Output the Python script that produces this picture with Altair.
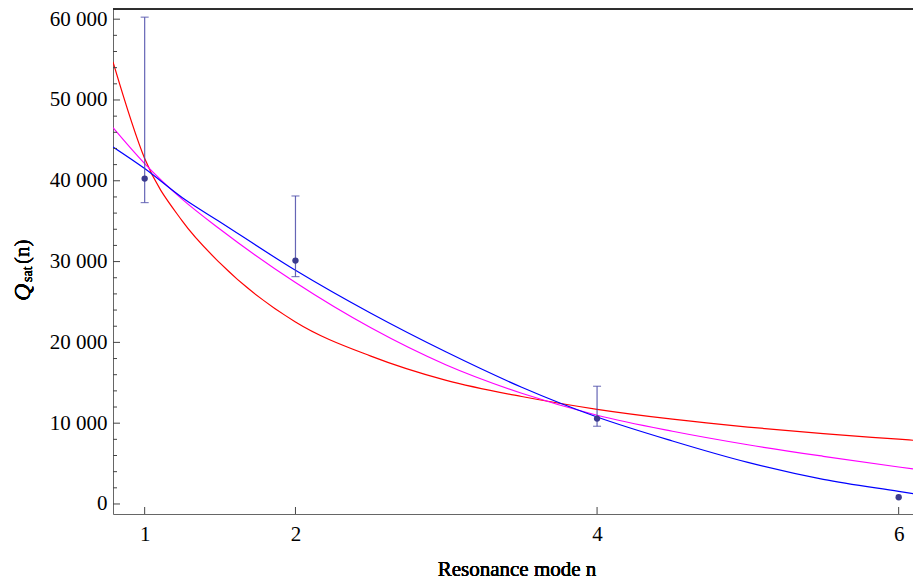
import altair as alt
import pandas as pd

# ---- data ----
n_vals = [1, 2, 4, 6]
q_vals = [40270, 30120, 10570, 830]

err_n = [1, 2, 4]
err_low = [37300, 28140, 9620]
err_high = [60250, 38120, 14570]

curve_x = [0.79, 1.0, 1.25, 1.5, 2.0, 2.5, 3.0, 3.5, 4.0, 4.5, 5.0, 5.5, 6.0, 6.16]
red_y = [54700, 42750, 35000, 29800, 22530, 18300, 15300, 13300, 11720, 10500, 9520, 8700, 8020, 7800]
magenta_y = [46580, 42130, 37700, 34000, 27400, 21800, 17200, 13700, 10980, 9000, 7330, 5900, 4580, 4170]
blue_y = [44180, 41510, 37900, 34900, 28920, 23600, 18800, 14450, 10770, 7800, 5150, 3050, 1550, 1080]

y_major = [0, 10000, 20000, 30000, 40000, 50000, 60000]
y_minor = [v for v in range(2000, 60000, 2000) if v % 10000 != 0]
x_ticks = [1, 2, 4, 6]

curve_names = ["red", "magenta", "blue"]
curve_colors = ["#ff0000", "#ff00ff", "#0000ff"]

# ---- tables ----
rows = []
for name, ys in zip(curve_names, [red_y, magenta_y, blue_y]):
    for x, y in zip(curve_x, ys):
        rows.append({"n": x, "q": y, "curve": name})
curves_df = pd.DataFrame(rows)
pts_df = pd.DataFrame({"n": n_vals, "q": q_vals})
err_df = pd.DataFrame({"n": err_n, "lo": err_low, "hi": err_high})
ymaj_df = pd.DataFrame({"q": y_major})
ymin_df = pd.DataFrame({"q": y_minor})
xt_df = pd.DataFrame({"n": x_ticks})

W, H = 800, 505
FONT = "Liberation Serif"
xs = alt.Scale(domain=[0.79, 0.79 + W / 150.8], nice=False, zero=False)
ys = alt.Scale(domain=[-1240, 61260], nice=False, zero=False)

xaxis = alt.Axis(values=x_ticks, ticks=False, grid=False, domainColor="#666666",
                 labelFont=FONT, labelFontSize=21, labelColor="black",
                 labelPadding=9, title=None, format="d")
yaxis = alt.Axis(values=y_major, ticks=False, grid=False, domainColor="#666666",
                 labelFont=FONT, labelFontSize=21, labelColor="black",
                 labelPadding=6, title=None,
                 labelExpr="replace(format(datum.value, ',d'), ',', ' ')")

lines = alt.Chart(curves_df).mark_line(strokeWidth=1.2, clip=True, interpolate="monotone").encode(
    x=alt.X("n:Q", scale=xs, axis=xaxis),
    y=alt.Y("q:Q", scale=ys, axis=yaxis),
    color=alt.Color("curve:N", scale=alt.Scale(domain=curve_names, range=curve_colors), legend=None),
    detail="curve:N",
)

bars = alt.Chart(err_df).mark_rule(color="#4a4aa8", opacity=0.85, strokeWidth=1.2).encode(
    x=alt.X("n:Q", scale=xs), y=alt.Y("lo:Q", scale=ys), y2="hi:Q"
)
cap_lo = alt.Chart(err_df).mark_tick(orient="horizontal", size=8, thickness=1.2,
                                      color="#4a4aa8", opacity=0.7).encode(
    x=alt.X("n:Q", scale=xs), y=alt.Y("lo:Q", scale=ys)
)
cap_hi = alt.Chart(err_df).mark_tick(orient="horizontal", size=8, thickness=1.2,
                                      color="#4a4aa8", opacity=0.7).encode(
    x=alt.X("n:Q", scale=xs), y=alt.Y("hi:Q", scale=ys)
)
points = alt.Chart(pts_df).mark_circle(size=40, color="#3b3b8f", opacity=1).encode(
    x=alt.X("n:Q", scale=xs), y=alt.Y("q:Q", scale=ys)
)

ymaj_ticks = alt.Chart(ymaj_df).mark_rule(color="#444444", strokeWidth=1).encode(
    y=alt.Y("q:Q", scale=ys), x=alt.value(0), x2=alt.value(7)
)
ymin_ticks = alt.Chart(ymin_df).mark_rule(color="#444444", strokeWidth=1).encode(
    y=alt.Y("q:Q", scale=ys), x=alt.value(0), x2=alt.value(4)
)
x_tick_marks = alt.Chart(xt_df).mark_rule(color="#444444", strokeWidth=1).encode(
    x=alt.X("n:Q", scale=xs), y=alt.value(H), y2=alt.value(H - 7)
)
top_frame = alt.Chart(xt_df).mark_rule(color="#222222", strokeWidth=1).encode(
    x=alt.value(0), x2=alt.value(W), y=alt.value(0)
)

x_title = alt.Chart(xt_df).mark_text(text="Resonance mode n", font=FONT, fontSize=21,
                                      color="black", baseline="middle", align="center").encode(
    x=alt.value(404), y=alt.value(561)
)
q_main = alt.Chart(xt_df).mark_text(text="Q", font=FONT, fontSize=24, fontStyle="italic",
                                     color="black", angle=270, align="left", baseline="middle").encode(
    x=alt.value(-90), y=alt.value(292)
)
q_sub = alt.Chart(xt_df).mark_text(text="sat", font=FONT, fontSize=14,
                                    color="black", angle=270, align="left", baseline="middle").encode(
    x=alt.value(-85), y=alt.value(273)
)
q_arg = alt.Chart(xt_df).mark_text(text="(n)", font=FONT, fontSize=21,
                                    color="black", angle=270, align="left", baseline="middle").encode(
    x=alt.value(-90), y=alt.value(255)
)

chart = alt.layer(
    lines, bars, cap_lo, cap_hi, points,
    ymaj_ticks, ymin_ticks, x_tick_marks, top_frame,
    x_title, q_main, q_sub, q_arg,
).properties(
    width=W, height=H,
    autosize=alt.AutoSizeParams(type="none"),
    padding={"left": 105, "top": 1, "right": 0, "bottom": 66},
).configure_view(stroke=None).configure(background="white")

chart.save("out.html", embed_options={"renderer": "svg", "actions": False})
